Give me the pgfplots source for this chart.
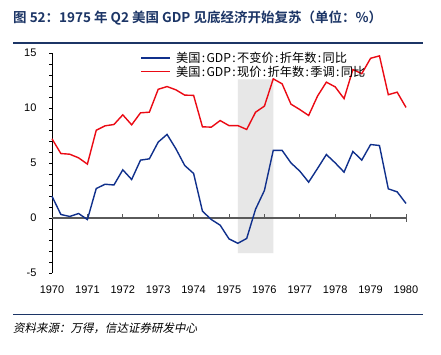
\documentclass[border=0pt]{standalone}
\usepackage{fontspec}
\setmainfont{Liberation Sans}
\newfontfamily\cjk{Noto Sans CJK SC}
\newfontfamily\cjkb{Noto Sans CJK SC Bold}
\newfontfamily\cjkit[FakeSlant=0.2]{Noto Sans CJK SC}
\usepackage{pgfplots}
\pgfplotsset{compat=1.18}
\definecolor{navy}{RGB}{28,53,102}
\definecolor{lblue}{RGB}{16,48,140}
\definecolor{lred}{RGB}{235,10,20}
\definecolor{zgray}{RGB}{90,90,90}
\definecolor{shade}{RGB}{231,231,231}
\newcommand{\cl}{\makebox[0.5em]{:}}
\begin{document}
\begin{tikzpicture}
\useasboundingbox (0pt,0pt) rectangle (441pt,354pt);
\fill[white] (0pt,0pt) rectangle (441pt,354pt);
\node[anchor=west, inner sep=0, text=navy] at (13pt,336pt) {\cjkb\fontsize{13.5}{15}\selectfont 图 52：1975 年 Q2 美国 GDP 见底经济开始复苏（单位：\%）};
\draw[navy, line width=1.5pt] (13pt,311pt) -- (423pt,311pt);
\draw[navy, line width=1.5pt] (13pt,39.5pt) -- (423pt,39.5pt);
\node[anchor=west, inner sep=0] at (13pt,26pt) {\cjkit\fontsize{11.5}{13}\selectfont 资料来源：万得，信达证券研发中心};
\begin{axis}[
  at={(52pt,81pt)}, anchor=south west,
  scale only axis, width=354pt, height=220pt,
  xmin=1970, xmax=1980, ymin=-5, ymax=15,
  axis x line*=bottom, axis y line*=left,
  x axis line style={draw=none},
  y axis line style={black, line width=0.8pt},
  xtick={1970,...,1980},
  xtick style={draw=none},
  xticklabel style={font=\fontsize{11}{13}\selectfont, /pgf/number format/1000 sep=, yshift=-9pt},
  ytick={-5,0,5,10,15},
  minor ytick={-4,-3,-2,-1,1,2,3,4,6,7,8,9,11,12,13,14},
  ytick align=outside, major tick length=3pt, minor tick length=3pt,
  ytick style={black, line width=0.6pt},
  yticklabel style={font=\fontsize{11}{13}\selectfont, xshift=-9pt},
  /pgf/number format/assume math mode=true,
  clip=false,
  legend style={at={(0.25,1.015)}, anchor=north west, draw=none, fill=none,
    font=\cjk\fontsize{12.2}{14}\selectfont, row sep=-2pt, column sep=3pt, inner sep=0pt},
  legend image code/.code={\draw[#1] (0pt,0pt) -- (29pt,0pt);},
  legend cell align=left,
]
% shaded recession
\addplot[draw=none, fill=shade, forget plot] coordinates {(1975.25,-3.2) (1976.25,-3.2) (1976.25,12.6) (1975.25,12.6)} \closedcycle;
% zero line
\addplot[zgray, line width=1.8pt, forget plot] coordinates {(1970,0) (1980,0)};
\addplot[zgray, ycomb, line width=0.8pt, forget plot] coordinates {(1971,0.35) (1972,0.35) (1973,0.35) (1974,0.35) (1975,0.35) (1976,0.35) (1977,0.35) (1978,0.35) (1979,0.35) (1980,0.35)};
\addplot[zgray, ycomb, line width=0.8pt, forget plot] coordinates {(1980,-0.35)};
\addplot[lblue, line width=1.4pt] coordinates {
(1970.00,1.98) (1970.25,0.32) (1970.50,0.14) (1970.75,0.41) (1971.00,-0.14)
(1971.25,2.68) (1971.50,3.07) (1971.75,3.00) (1972.00,4.38) (1972.25,3.50)
(1972.50,5.26) (1972.75,5.38) (1973.00,6.90) (1973.25,7.60) (1973.50,6.29)
(1973.75,4.77) (1974.00,4.05) (1974.25,0.62) (1974.50,-0.14) (1974.75,-0.65)
(1975.00,-1.90) (1975.25,-2.30) (1975.50,-1.86) (1975.75,0.80) (1976.00,2.50)
(1976.25,6.15) (1976.50,6.15) (1976.75,5.01) (1977.00,4.26) (1977.25,3.26)
(1977.50,4.50) (1977.75,5.77) (1978.00,5.01) (1978.25,4.17) (1978.50,6.05)
(1978.75,5.26) (1979.00,6.68) (1979.25,6.59) (1979.50,2.65) (1979.75,2.38)
(1980.00,1.32)};
\addlegendentry{美国\cl GDP\cl 不变价\cl 折年数\cl 同比}
\addplot[lred, line width=1.4pt] coordinates {
(1970.00,7.20) (1970.25,5.86) (1970.50,5.80) (1970.75,5.47) (1971.00,4.90)
(1971.25,7.98) (1971.50,8.38) (1971.75,8.50) (1972.00,9.38) (1972.25,8.47)
(1972.50,9.56) (1972.75,9.62) (1973.00,11.70) (1973.25,11.95) (1973.50,11.65)
(1973.75,11.17) (1974.00,11.15) (1974.25,8.29) (1974.50,8.26) (1974.75,8.86)
(1975.00,8.40) (1975.25,8.40) (1975.50,8.05) (1975.75,9.62) (1976.00,10.17)
(1976.25,12.65) (1976.50,12.20) (1976.75,10.35) (1977.00,9.86) (1977.25,9.32)
(1977.50,11.08) (1977.75,12.35) (1978.00,11.92) (1978.25,10.85) (1978.50,13.50)
(1978.75,13.12) (1979.00,14.52) (1979.25,14.74) (1979.50,11.21) (1979.75,11.44)
(1980.00,10.05)};
\addlegendentry{美国\cl GDP\cl 现价\cl 折年数\cl 季调\cl 同比}
\end{axis}
\end{tikzpicture}
\end{document}
